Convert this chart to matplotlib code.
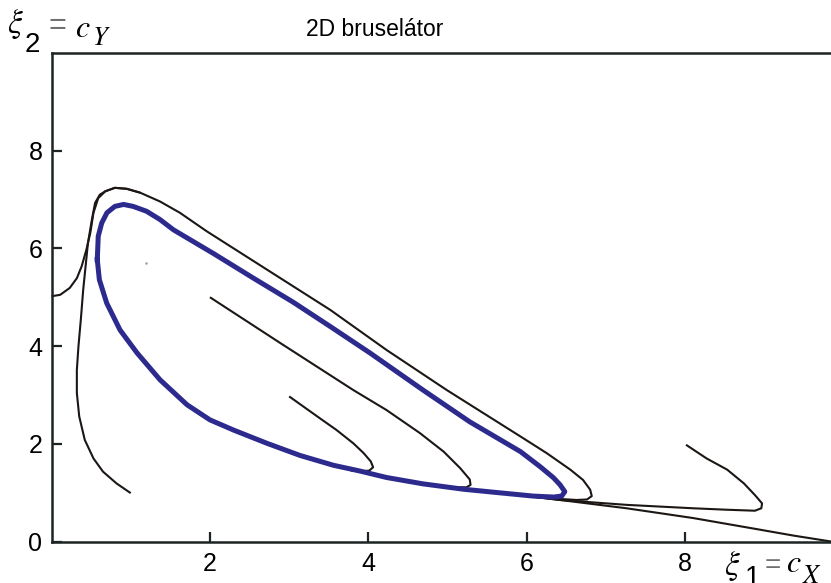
import numpy as np
import matplotlib
matplotlib.use("Agg")
from matplotlib import pyplot as plt

plt.rcParams['font.family'] = ['Liberation Sans', 'DejaVu Sans']
plt.rcParams['mathtext.fontset'] = 'stix'

# ciclo limite (azul)
ciclo_x = [0.578, 0.59, 0.634, 0.70, 0.80, 0.91, 1.03, 1.20, 1.37, 1.54, 2.05, 2.55, 3.05, 3.52,
           4.02, 4.69, 5.28, 5.92, 6.17, 6.34, 6.42, 6.48, 6.44, 6.34, 6.08, 5.70, 5.20, 4.69,
           4.23, 3.90, 3.56, 3.14, 2.72, 2.30, 2.00, 1.71, 1.37, 1.08, 0.865, 0.697, 0.604, 0.578]
ciclo_y = [5.77, 6.25, 6.52, 6.73, 6.86, 6.90, 6.86, 6.76, 6.59, 6.38, 5.89, 5.39, 4.90, 4.40,
           3.86, 3.10, 2.45, 1.84, 1.53, 1.30, 1.16, 1.02, 0.93, 0.91, 0.93, 0.99, 1.07, 1.18,
           1.31, 1.44, 1.56, 1.76, 2.01, 2.28, 2.49, 2.80, 3.31, 3.86, 4.33, 4.88, 5.36, 5.77]

# trajetorias (preto)
t1_x = [0.00, 0.11, 0.23, 0.32, 0.38, 0.44, 0.49, 0.53, 0.59, 0.68, 0.80, 0.95, 1.12, 1.37, 1.62,
        1.96, 3.52, 4.23, 4.99, 5.92, 6.25, 6.55, 6.71, 6.80, 6.82, 6.76, 6.63, 6.33, 6.00]
t1_y = [5.02, 5.05, 5.19, 5.39, 5.63, 5.97, 6.32, 6.73, 7.03, 7.17, 7.24, 7.22, 7.14, 6.96, 6.73,
        6.35, 4.74, 3.92, 3.10, 2.15, 1.81, 1.47, 1.26, 1.06, 0.93, 0.86, 0.85, 0.88, 0.93]

t2_x = [1.00, 0.82, 0.65, 0.53, 0.42, 0.35, 0.32, 0.32, 0.34, 0.37, 0.38, 0.40, 0.43, 0.46, 0.51,
        0.55, 0.61, 0.68, 0.80, 0.95, 1.12]
t2_y = [0.99, 1.19, 1.43, 1.70, 2.08, 2.56, 3.04, 3.51, 3.99, 4.54, 4.74, 5.15, 5.63, 6.11, 6.59,
        6.93, 7.10, 7.17, 7.24, 7.22, 7.14]

t3_x = [2.00, 2.90, 3.81, 4.23, 4.65, 4.95, 5.16, 5.28, 5.29, 5.24, 5.07, 4.78]
t3_y = [5.00, 4.05, 3.10, 2.69, 2.22, 1.84, 1.50, 1.27, 1.16, 1.11, 1.11, 1.17]

t4_x = [3.00, 3.39, 3.60, 3.81, 3.94, 4.03, 4.06, 4.01, 3.90, 3.78]
t4_y = [2.97, 2.52, 2.28, 2.01, 1.81, 1.64, 1.52, 1.45, 1.44, 1.45]

t5_x = [8.01, 8.27, 8.53, 8.74, 8.88, 8.97, 8.96, 8.88, 8.53, 8.10, 7.26, 6.42, 5.70]
t5_y = [1.98, 1.70, 1.47, 1.19, 0.95, 0.78, 0.68, 0.63, 0.65, 0.68, 0.75, 0.85, 0.99]

t6_x = [9.84, 9.37, 8.95, 8.10, 7.26, 6.42, 5.70]
t6_y = [0.00, 0.12, 0.24, 0.48, 0.68, 0.85, 0.99]

xticks = [2, 4, 6, 8]
yticks = [0, 2, 4, 6, 8]

fig = plt.figure(figsize=(8.31, 5.83), dpi=100)
ax = fig.add_axes([51.5/831, 41.5/583, (831-51.5)/831, (541.5-53)/583])

preto = '#1c1714'
for tx, ty in [(t1_x, t1_y), (t2_x, t2_y), (t3_x, t3_y), (t4_x, t4_y), (t5_x, t5_y), (t6_x, t6_y)]:
    ax.plot(tx, ty, color=preto, lw=1.5, solid_capstyle='butt', solid_joinstyle='round', clip_on=False)
ax.plot(ciclo_x, ciclo_y, color='#2d2a8e', lw=3.6, solid_joinstyle='round')
ax.plot([1.19], [5.71], marker='.', ms=1.5, color='#999999')

ax.set_xlim(0, 9.84)
ax.set_ylim(0, 10)
ax.set_xticks(xticks)
ax.set_yticks(yticks)
ax.tick_params(direction='in', length=7, width=1.6, color='#1c2424', labelsize=18)
ax.tick_params(axis='x', pad=7.5)
ax.tick_params(axis='y', pad=6.5)
for s in ['left', 'bottom', 'top']:
    ax.spines[s].set_linewidth(1.8)
    ax.spines[s].set_color('#1c2424')
ax.spines['right'].set_visible(False)

def px(x, y, s, **kw):
    fig.text(x/831, 1 - y/583, s, ha='left', va='baseline', **kw)

fig.text(375/831, 1 - 30/583, '2D bruselátor', ha='center', va='center', fontsize=16.5)

# rotulo eixo y
px(7, 33, r'$\xi$', fontsize=24)
px(25, 52, '2', fontsize=20)
px(49, 34, '=', fontsize=22, color='#707070')
px(75, 37, r'$c$', fontsize=23)
px(92, 45, r'$Y$', fontsize=19)

# rotulo eixo x
px(724, 575, r'$\xi$', fontsize=24)
px(745, 585, '1', fontsize=20)
px(765, 573, '=', fontsize=20, color='#707070')
px(786, 572, r'$c$', fontsize=23)
px(802, 583, r'$X$', fontsize=19)

plt.savefig('out.png', dpi=100)
